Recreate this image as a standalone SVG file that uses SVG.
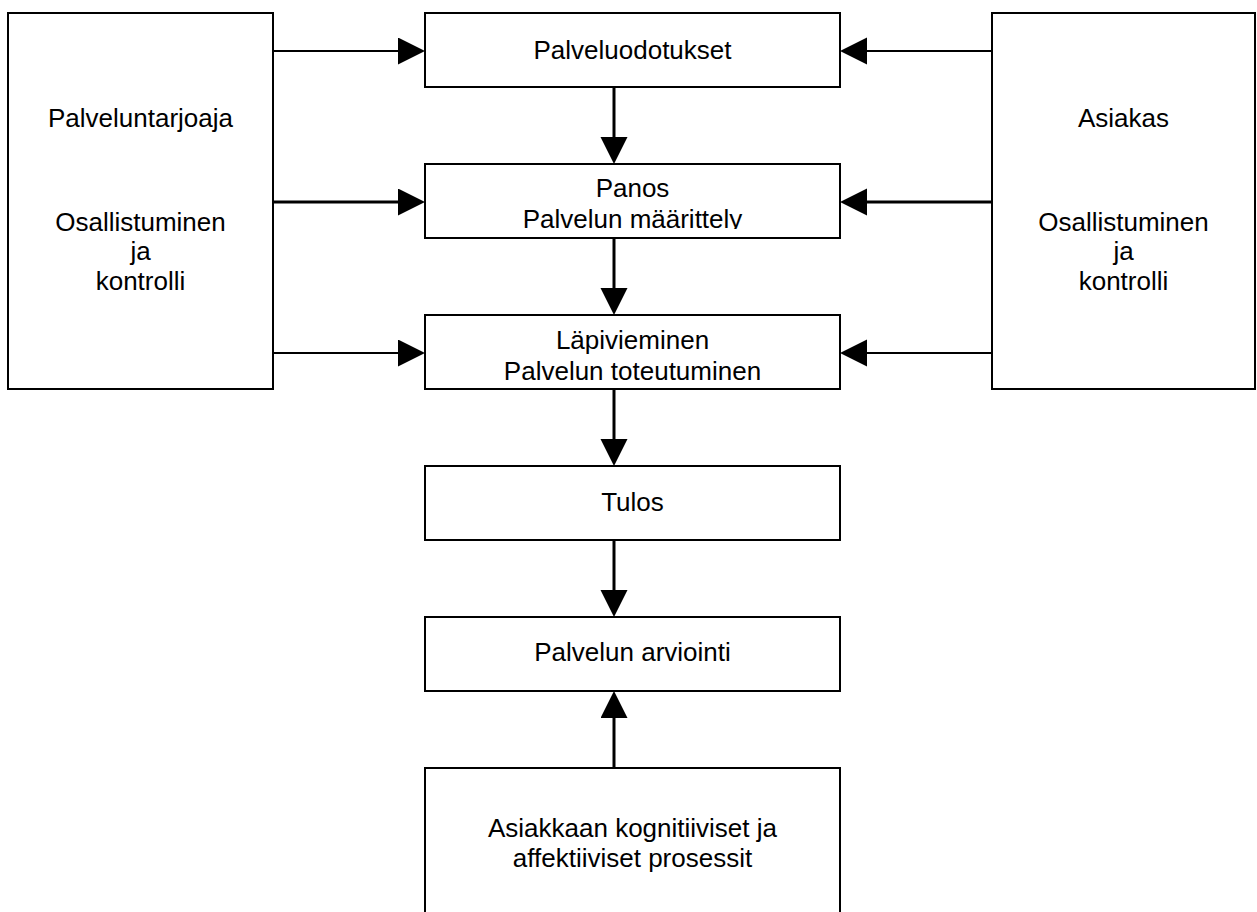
<svg xmlns="http://www.w3.org/2000/svg" width="1257" height="912" viewBox="0 0 1257 912">
<style>
.box{fill:#fff;stroke:#000;stroke-width:2}
.t{font-family:"Liberation Sans",Arial,sans-serif;font-size:26px;fill:#000;text-anchor:middle}
.c{stroke:#000;fill:none;marker-end:url(#ah)}
.thin{stroke-width:2}
.thick{stroke-width:3}
</style>
<defs>
<marker id="ah" markerUnits="userSpaceOnUse" markerWidth="28" markerHeight="28" refX="0" refY="13.5" orient="auto" viewBox="0 0 28 28">
<path d="M0,0 L27,13.5 L0,27 z" fill="#000"/>
</marker>
<clipPath id="clip2"><rect x="425" y="164" width="415" height="65"/></clipPath>
</defs>
<rect width="1257" height="912" fill="#fff"/>
<g id="provider">
<rect class="box" x="8" y="13" width="265" height="376"/>
<text class="t" x="140.5" y="127">Palveluntarjoaja</text>
<text class="t" x="140.5" y="231">Osallistuminen</text>
<text class="t" x="140.5" y="260">ja</text>
<text class="t" x="140.5" y="290">kontrolli</text>
</g>
<g id="customer">
<rect class="box" x="992" y="13" width="263" height="376"/>
<text class="t" x="1123.5" y="127">Asiakas</text>
<text class="t" x="1123.5" y="231">Osallistuminen</text>
<text class="t" x="1123.5" y="260">ja</text>
<text class="t" x="1123.5" y="290">kontrolli</text>
</g>
<g id="expectations">
<rect class="box" x="425" y="13" width="415" height="74"/>
<text class="t" x="632.5" y="59">Palveluodotukset</text>
</g>
<g id="input">
<rect class="box" x="425" y="164" width="415" height="74"/>
<text class="t" x="632.5" y="197">Panos</text>
<text class="t" x="632.5" y="228" clip-path="url(#clip2)">Palvelun määrittely</text>
</g>
<g id="throughput">
<rect class="box" x="425" y="315" width="415" height="74"/>
<text class="t" x="632.5" y="349">Läpivieminen</text>
<text class="t" x="632.5" y="380">Palvelun toteutuminen</text>
</g>
<g id="result">
<rect class="box" x="425" y="466" width="415" height="74"/>
<text class="t" x="632.5" y="511">Tulos</text>
</g>
<g id="evaluation">
<rect class="box" x="425" y="617" width="415" height="74"/>
<text class="t" x="632.5" y="661">Palvelun arviointi</text>
</g>
<g id="processes">
<rect class="box" x="425" y="768" width="415" height="220"/>
<text class="t" x="632.5" y="837">Asiakkaan kognitiiviset ja</text>
<text class="t" x="632.5" y="867">affektiiviset prosessit</text>
</g>
<g id="connectors">
<line class="c thin" x1="273" y1="51" x2="398" y2="51"/>
<line class="c thick" x1="273" y1="202" x2="398" y2="202"/>
<line class="c thin" x1="273" y1="353" x2="398" y2="353"/>
<line class="c thin" x1="992" y1="51" x2="867" y2="51"/>
<line class="c thick" x1="992" y1="202" x2="867" y2="202"/>
<line class="c thin" x1="992" y1="353" x2="867" y2="353"/>
<line class="c thick" x1="614" y1="87" x2="614" y2="137"/>
<line class="c thick" x1="614" y1="238" x2="614" y2="288"/>
<line class="c thick" x1="614" y1="389" x2="614" y2="439"/>
<line class="c thick" x1="614" y1="540" x2="614" y2="590"/>
<line class="c thick" x1="614" y1="768" x2="614" y2="718"/>
</g>
</svg>
